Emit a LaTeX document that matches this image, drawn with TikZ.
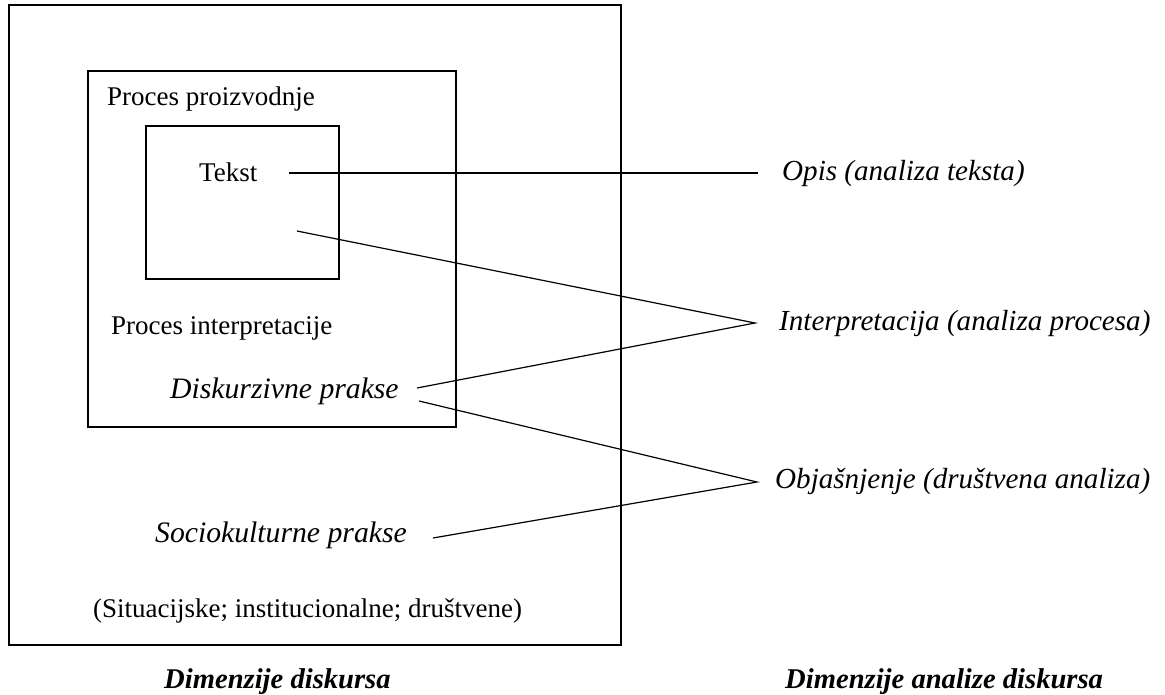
\documentclass[tikz,border=0pt]{standalone}
\usepackage{fontspec}
\setmainfont{Liberation Serif}
\begin{document}
\begin{tikzpicture}[x=1pt,y=-1pt,
  box/.style={draw,line width=1.3pt},
  lbl/.style={inner sep=0pt,anchor=base west,font=\fontsize{27}{32}\selectfont},
  ilbl/.style={inner sep=0pt,anchor=base west,font=\fontsize{29.1}{34}\selectfont\itshape},
  ilblw/.style={inner sep=0pt,anchor=base west,font=\fontsize{29.7}{34}\selectfont\itshape},
  blbl/.style={inner sep=0pt,anchor=base west,font=\fontsize{28.6}{34}\selectfont\bfseries\itshape},
  conn/.style={line width=1.2pt}]
\useasboundingbox (0,0) rectangle (1165,694);
% boxes
\draw[box] (9,5) rectangle (621,645);
\draw[box] (88,71) rectangle (456,427);
\draw[box] (146,126) rectangle (339,279);
% left texts
\node[lbl] (prod) at (107,105) {Proces proizvodnje};
\node[lbl] (tekst) at (199,181) {Tekst};
\node[lbl] (interp) at (111,334) {Proces interpretacije};
\node[ilblw] (disk) at (170,398) {Diskurzivne prakse};
\node[ilblw] (socio) at (155,542) {Sociokulturne prakse};
\node[lbl] (sit) at (93,617) {(Situacijske; institucionalne; društvene)};
\node[blbl] (dimd) at (164,688) {Dimenzije diskursa};
% right texts
\node[ilbl] (opis) at (782,180) {Opis (analiza teksta)};
\node[ilbl] (interpa) at (779,330) {Interpretacija (analiza procesa)};
\node[ilbl] (objas) at (775,488) {Objašnjenje (društvena analiza)};
\node[blbl] (dima) at (785,688) {Dimenzije analize diskursa};
% connector ends
\coordinate (t1) at (289,173);
\coordinate (t2) at (758,173);
\coordinate (a1) at (297,231);
\coordinate (a2) at (417,388);
\coordinate (ap) at (755,323);
\coordinate (b1) at (419,401);
\coordinate (b2) at (433,538);
\coordinate (bp) at (757,482);
\draw[conn] (t1) -- (t2);
\draw[conn] (a1) -- (ap) -- (a2);
\draw[conn] (b1) -- (bp) -- (b2);
\end{tikzpicture}
\end{document}
